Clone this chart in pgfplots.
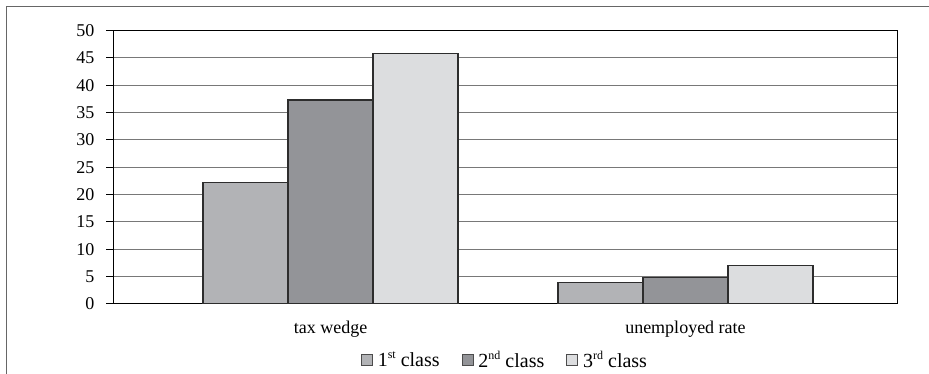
\documentclass[border=0pt]{standalone}
\usepackage{fontspec}
\setmainfont{Liberation Serif}
\usepackage{pgfplots}
\pgfplotsset{compat=1.18}

\definecolor{classA}{RGB}{178,179,182}
\definecolor{classB}{RGB}{147,148,152}
\definecolor{classC}{RGB}{220,221,223}
\definecolor{edge}{RGB}{45,45,45}
\definecolor{gridc}{RGB}{120,120,120}

% small raised ordinal suffix
\newcommand\ord[1]{\raisebox{0.42em}{\fontsize{12}{12}\selectfont #1}}

\begin{document}
\begin{tikzpicture}
\useasboundingbox (0pt,0pt) rectangle (929pt,374pt);
% outer frame (top and left edges)
\draw[line width=1pt, draw=black!60] (6pt,0pt) -- (6pt,367pt) -- (929pt,367pt);
\begin{axis}[
  at={(113pt,70pt)}, anchor=south west,
  scale only axis,
  width=784pt, height=273.5pt,
  xmin=-0.613, xmax=1.596,
  ymin=0, ymax=50,
  ytick={0,5,...,50},
  xtick={0,1},
  xticklabels={tax wedge, unemployed rate},
  ybar=0pt, bar width=85pt,
  ymajorgrids,
  grid style={line width=1pt, draw=gridc},
  axis line style={line width=1pt, draw=black},
  ytick pos=left,
  tick align=outside,
  major tick length=7pt,
  x tick style={draw=none},
  y tick style={line width=1pt, draw=black},
  /pgf/number format/assume math mode=true,
  tick label style={font=\fontsize{18}{21}\selectfont},
  yticklabel style={xshift=-8pt},
  xticklabel style={yshift=-6pt},
  legend columns=3,
  legend style={at={(0.5,-0.205)}, anchor=center, draw=none, fill=none,
    font=\fontsize{20}{22}\selectfont,
    /tikz/every odd column/.append style={column sep=3pt},
    /tikz/every even column/.append style={column sep=20pt}},
  legend image code/.code={\draw[#1, line width=0.8pt, draw=black!70] (0pt,-5.5pt) rectangle (11pt,5.5pt);},
  every axis plot/.append style={draw=edge, line width=1.2pt},
]
\addplot[fill=classA] coordinates {(0,22.2) (1,4.0)};
\addplot[fill=classB] coordinates {(0,37.3) (1,4.8)};
\addplot[fill=classC] coordinates {(0,45.8) (1,7.0)};
\legend{1\ord{st} class, 2\ord{nd} class, 3\ord{rd} class}
\end{axis}
\end{tikzpicture}
\end{document}
